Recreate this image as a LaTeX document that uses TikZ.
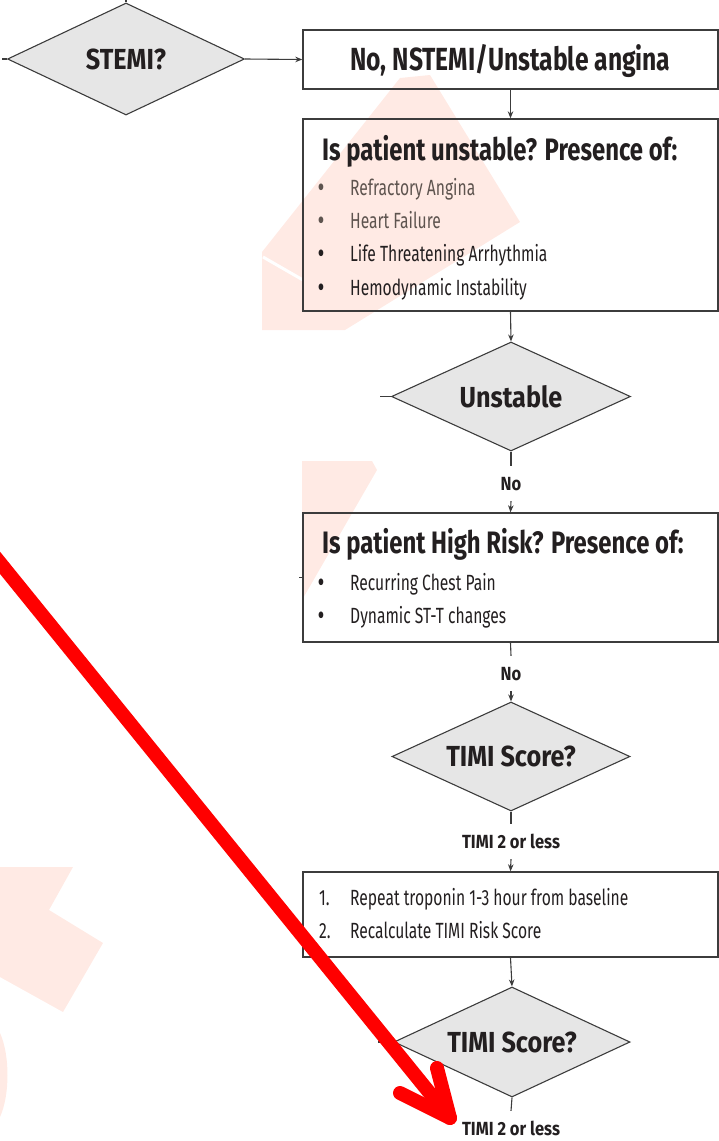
\documentclass[tikz,border=0pt]{standalone}
\usepackage{fontspec}
\setmainfont{Fira Sans}
% condensed cuts for body text, headings and decision labels
\newfontfamily\condR{Fira Sans}[FakeStretch=0.71]
\newfontfamily\condH{Fira Sans}[FakeStretch=0.77]
\newfontfamily\condD{Fira Sans}[FakeStretch=0.87]
\usetikzlibrary{shapes.geometric,arrows.meta}

\definecolor{ink}{HTML}{231F20}
\definecolor{soft}{HTML}{5E544F}
\definecolor{edge}{HTML}{3C3C3C}
\definecolor{dfill}{HTML}{E6E6E6}
\definecolor{wmark}{HTML}{FFEAE4}

\begin{document}
\begin{tikzpicture}[x=1pt,y=-1pt,
  box/.style={draw=edge, line width=1.4pt, minimum width=415pt, inner sep=0pt},
  dec/.style={diamond, draw=edge, line width=1.1pt, fill=dfill, aspect=2.18,
    inner sep=0pt, minimum width=238pt, minimum height=109pt,
    font=\condD\bfseries\fontsize{29}{30}\selectfont, text=ink},
  head/.style={anchor=base west, inner sep=0pt, text=ink,
    font=\condH\bfseries\fontsize{31}{33}\selectfont},
  item/.style={anchor=base west, inner sep=0pt, text=ink,
    font=\condR\fontsize{22}{24}\selectfont},
  dot/.style={anchor=base west, inner sep=0pt, text=ink,
    font=\condR\bfseries\fontsize{24}{24}\selectfont},
  lbl/.style={anchor=base, inner xsep=2pt, inner ysep=11pt, text height=13pt,
    text depth=0pt, text=ink, font=\condD\bfseries\fontsize{19}{20}\selectfont},
  link/.style={draw=edge, line width=1.1pt},
  flow/.style={link, -{Stealth[length=7pt,width=5.5pt]}},
  pen/.style={draw=red, line width=14pt, line cap=round, line join=round}]

\useasboundingbox (0,0) rectangle (719,1141);
\clip (0,0) rectangle (719,1141);

% faint logo shapes in the background
\fill[wmark] (262,252) -- (400,78) -- (430,75) -- (520,222) -- (345,330) -- (262,330) -- cycle;
\draw[white, line width=3pt] (263,257) -- (303,280);
\fill[wmark] (302,461) -- (372,461) -- (377,470) -- (302,600) -- cycle;
\fill[wmark] (0,867) -- (73,867) -- (49,910) -- (103,943) -- (63,1012) -- (0,977) -- cycle;
\fill[wmark] (0,1033) .. controls (10,1055) and (10,1095) .. (0,1117) -- cycle;

% decision: STEMI
\node[dec, minimum width=237pt, minimum height=112pt, aspect=2.12] (stemi) at (126,59) {STEMI?};
\coordinate (stemiTop) at (126,0);
\coordinate (stemiLeft) at (2,59);
\draw[link] (stemiTop) -- (stemi.north);
\draw[link] (stemiLeft) -- (stemi.west);

% NSTEMI box
\node[box, minimum height=59pt, text=ink, text height=22pt, text depth=0pt,
  font=\condH\bfseries\fontsize{32}{34}\selectfont] (nst) at (510.5,59.5) {No, NSTEMI/Unstable angina};
\draw[flow] (stemi.east) -- (nst.west);

% instability box
\node[box, minimum height=192pt] (unsbox) at (510.5,215) {};
\node[head] (unsT) at (322,160) {Is patient unstable? Presence of:};
\node[dot, text=soft] (ub1) at (318,195) {•};
\node[item, text=soft] (ui1) at (350,195) {Refractory Angina};
\node[dot, text=soft] (ub2) at (318,228) {•};
\node[item, text=soft] (ui2) at (350,228) {Heart Failure};
\node[dot] (ub3) at (318,261) {•};
\node[item] (ui3) at (350,261) {Life Threatening Arrhythmia};
\node[dot] (ub4) at (318,295) {•};
\node[item] (ui4) at (350,295) {Hemodynamic Instability};
\draw[flow] (nst.south) -- (unsbox.north);

% decision: unstable
\node[dec, minimum width=239pt] (uns) at (511,396.5) {Unstable};
\coordinate (unsLeft) at (380,396.5);
\draw[link] (unsLeft) -- (uns.west);
\draw[flow] (unsbox.south) -- (uns.north);
\node[lbl] (no1) at (511,490) {No};
\draw[link] (uns.south) -- (no1.north);

% high risk box
\node[box, minimum height=129pt] (risk) at (510.5,577.5) {};
\node[head] (riskT) at (322,553) {Is patient High Risk? Presence of:};
\node[dot] (rb1) at (318,590) {•};
\node[item] (ri1) at (350,590) {Recurring Chest Pain};
\node[dot] (rb2) at (318,623) {•};
\node[item] (ri2) at (350,623) {Dynamic ST-T changes};
\coordinate (riskLeft) at (299,577.5);
\draw[link] (riskLeft) -- (risk.west);
\draw[flow] (no1.south) -- (risk.north);
\node[lbl] (no2) at (511,680) {No};
\draw[link] (risk.south) -- (no2.north);

% first TIMI decision
\node[dec] (timiA) at (511,756.5) {TIMI Score?};
\draw[flow] (no2.south) -- (timiA.north);
\node[lbl] (lessA) at (511,848) {TIMI 2 or less};
\draw[link] (timiA.south) -- (lessA.north);

% repeat box
\node[box, minimum height=85pt] (rep) at (510.5,914.5) {};
\node[item] (rn1) at (319,905) {1.};
\node[item] (rt1) at (350,905) {Repeat troponin 1-3 hour from baseline};
\node[item] (rn2) at (319,938) {2.};
\node[item] (rt2) at (350,938) {Recalculate TIMI Risk Score};
\draw[flow] (lessA.south) -- (rep.north);

% second TIMI decision
\node[dec, minimum width=236pt, minimum height=110pt] (timiB) at (512,1042) {TIMI Score?};
\coordinate (timiBLeft) at (378,1042);
\draw[link] (timiBLeft) -- (timiB.west);
\draw[flow] (rep.south) -- (timiB.north);
\node[lbl] (lessB) at (511,1135) {TIMI 2 or less};
\draw[link] (timiB.south) -- (lessB.north);

% red pointer
\coordinate (penStart) at (-12,548);
\coordinate (penTip) at (450,1118);
\coordinate (barbL) at (400,1093);
\coordinate (barbR) at (437,1068);
\draw[pen] (penStart) -- (penTip);
\draw[pen] (barbL) -- (penTip) -- (barbR);
\end{tikzpicture}
\end{document}
